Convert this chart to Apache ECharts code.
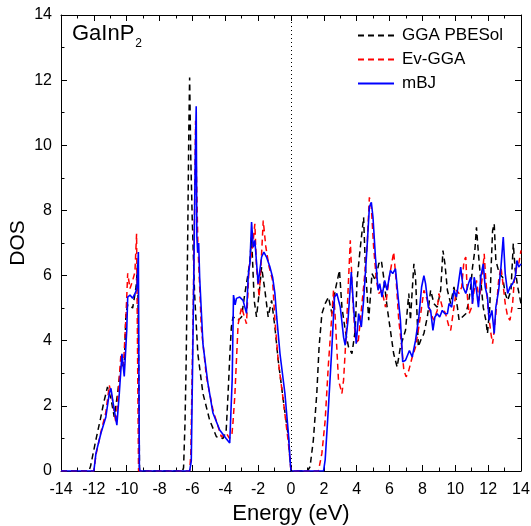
<!DOCTYPE html>
<html>
<head>
<meta charset="utf-8">
<script src="https://cdn.jsdelivr.net/npm/echarts@6/dist/echarts.min.js"></script>
<style>
html,body{margin:0;padding:0;background:#fff;}
#chart{width:531px;height:526px;}
</style>
</head>
<body>
<div id="chart"></div>
<script>
// ---- data ----
const seriesNames = ['GGA PBESol', 'Ev-GGA', 'mBJ'];
const xTicks = [-14,-12,-10,-8,-6,-4,-2,0,2,4,6,8,10,12,14];
const yTicks = [0,2,4,6,8,10,12,14];

const ggaE = [-14,-12.3,-12.2,-11.9,-11.6,-11.4,-11.17,-10.95,-10.76,-10.55,-10.35,-10.15,-10.05,-9.94,-9.8,-9.64,-9.43,-9.33,-9.27,-9.22,
  -6.6,-6.54,-6.45,-6.38,-6.28,-6.22,-6.17,-6.1,-6.01,-5.87,-5.67,-5.36,-4.95,-4.54,-4.14,-3.95,-3.83,-3.72,-3.63,-3.53,-3.22,-3.01,-2.81,-2.61,-2.5,-2.4,-2.24,-2.1,-1.9,-1.79,-1.59,-1.39,-1.18,-0.98,-0.78,-0.47,-0.16,0,
  1.0,1.16,1.36,1.57,1.71,1.88,2.08,2.28,2.49,2.69,2.95,3.1,3.3,3.5,3.71,3.91,4.02,4.22,4.42,4.52,4.73,4.93,5.14,5.34,5.5,5.64,5.85,6.05,6.25,6.46,6.66,6.97,7.17,7.27,7.38,7.48,7.58,7.75,7.89,8.09,8.3,8.5,8.7,8.9,9.11,9.25,9.37,9.52,9.72,9.92,10.13,10.23,10.43,10.64,10.8,10.94,11.05,11.19,11.29,11.41,11.55,11.7,11.86,11.96,12.1,12.19,12.27,12.37,12.47,12.68,12.88,13.04,13.19,13.39,13.53,13.65,13.8,14.0];
const ggaDos = [0,0,0.15,0.9,1.6,2.1,2.58,2.2,1.66,2.4,3.3,3.2,4.8,5.1,5.1,5.0,5.65,6.4,3.0,0,
  0,0.1,1.5,3.4,7.5,10.5,12.08,9.6,7.7,5.45,3.6,2.38,1.56,1.05,1.0,1.2,2.38,3.6,4.42,4.73,4.63,4.73,5.45,6.06,6.46,7.18,5.24,4.73,5.65,6.26,5.55,4.73,5.24,4.42,3.4,2.17,1.05,0,
  0,0.13,0.95,2.38,3.81,4.83,5.14,5.34,4.83,5.55,6.16,5.03,4.32,3.81,3.6,4.32,5.85,6.87,7.79,6.36,4.63,6.06,5.85,6.36,6.46,5.95,5.03,4.32,3.6,3.19,3.81,4.32,5.45,4.63,5.55,6.36,5.95,3.81,4.01,4.22,4.73,5.55,5.14,5.03,5.55,6.77,6.36,5.55,5.14,5.65,5.03,4.63,4.73,4.83,5.14,5.65,6.26,6.77,7.48,6.67,5.85,5.03,4.63,4.22,5.03,6.36,7.38,7.59,6.46,6.06,5.95,5.45,5.24,5.55,6.98,6.16,5.65,5.14];

const evE = [-14,-12.0,-11.87,-11.57,-11.27,-11.06,-10.9,-10.66,-10.5,-10.35,-10.2,-10.05,-9.94,-9.8,-9.64,-9.5,-9.4,-9.33,-9.28,
  -6.17,-6.1,-5.97,-5.87,-5.81,-5.75,-5.67,-5.46,-5.15,-4.75,-4.24,-3.93,-3.75,-3.6,-3.53,-3.42,-3.32,-3.22,-3.01,-2.71,-2.55,-2.34,-2.2,-2.1,-1.94,-1.79,-1.69,-1.53,-1.33,-1.12,-0.98,-0.78,-0.47,-0.16,0,
  1.67,1.88,2.08,2.28,2.45,2.59,2.69,2.89,3.1,3.2,3.35,3.5,3.61,3.75,3.91,4.08,4.22,4.42,4.63,4.77,4.89,5.03,5.2,5.34,5.54,5.75,5.95,6.16,6.25,6.4,6.56,6.72,6.87,7.01,7.17,7.38,7.58,7.78,7.95,8.09,8.3,8.5,8.7,8.9,9.0,9.21,9.41,9.62,9.72,9.92,10.07,10.23,10.39,10.53,10.64,10.74,10.84,11.0,11.15,11.29,11.45,11.62,11.76,11.86,12.02,12.17,12.27,12.37,12.47,12.64,12.78,12.88,13.04,13.19,13.33,13.49,13.59,13.74,13.86,14.0];
const evDos = [0,0,0.5,1.2,1.8,2.63,2.3,1.47,2.5,3.6,3.2,4.7,6.07,5.6,5.85,6.1,7.28,3.0,0,
  0,0.5,4.4,8.0,10.75,9.0,7.0,4.4,2.9,1.87,1.05,1.16,1.0,1.1,1.5,2.3,3.4,4.5,5.03,4.52,6.26,6.87,7.59,6.26,5.34,6.67,7.69,6.87,6.26,5.85,4.63,3.4,2.17,0.86,0,
  0,0.54,1.56,3.3,4.52,5.55,4.73,2.79,2.38,2.79,4.11,5.85,7.08,5.34,4.11,3.91,4.63,5.65,6.87,8.4,8.1,6.87,5.85,5.45,5.55,5.03,5.85,6.46,6.72,5.85,4.63,3.91,3.09,2.89,3.09,3.5,3.81,4.42,5.03,5.55,5.24,4.83,4.63,4.93,5.45,5.03,4.83,4.42,4.32,5.03,5.55,5.45,5.65,6.46,6.57,5.34,4.83,5.03,5.55,5.85,5.24,5.85,6.67,5.85,4.83,4.22,3.91,4.32,4.83,5.85,6.26,5.85,5.14,4.73,4.63,5.14,5.85,6.26,6.36,6.77];

const mbjE = [-14,-12.0,-11.87,-11.57,-11.27,-11.06,-10.96,-10.8,-10.6,-10.45,-10.29,-10.15,-10.0,-9.94,-9.8,-9.64,-9.45,-9.37,-9.29,-9.23,-9.2,
  -6.17,-6.07,-5.93,-5.83,-5.77,-5.73,-5.68,-5.62,-5.56,-5.36,-5.06,-4.75,-4.34,-3.95,-3.73,-3.65,-3.58,-3.5,-3.4,-3.32,-3.12,-2.92,-2.81,-2.71,-2.6,-2.5,-2.4,-2.3,-2.2,-2.0,-1.79,-1.65,-1.49,-1.28,-1.12,-0.98,-0.87,-0.67,-0.37,-0.16,-0.05,0,
  1.98,2.08,2.28,2.49,2.65,2.79,3.0,3.2,3.3,3.47,3.67,3.81,3.97,4.12,4.28,4.42,4.63,4.77,4.89,4.99,5.14,5.3,5.4,5.54,5.7,5.85,6.05,6.19,6.36,6.52,6.66,6.8,6.97,7.07,7.21,7.38,7.58,7.78,7.95,8.09,8.19,8.36,8.5,8.64,8.76,8.9,9.05,9.21,9.37,9.52,9.62,9.78,9.92,10.07,10.19,10.33,10.47,10.64,10.8,10.94,11.05,11.15,11.29,11.41,11.55,11.7,11.82,11.96,12.06,12.23,12.37,12.47,12.64,12.78,12.92,13.04,13.19,13.33,13.49,13.65,13.75,13.86,14.0];
const mbjDos = [0,0,0.55,1.16,1.66,2.39,2.54,2.0,1.41,2.39,3.6,2.9,4.3,5.34,5.4,5.3,5.5,5.65,6.72,0.13,0,
  0,0.3,5.45,9.5,11.2,7.2,6.7,7.0,5.95,3.9,2.7,1.78,1.26,1.0,0.86,0.9,2.8,5.4,5.1,5.3,5.34,5.24,5.03,4.84,6.0,6.4,7.64,6.87,7.08,5.75,6.57,6.72,6.57,6.26,5.95,5.45,4.73,3.6,2.38,1.16,0.3,0,
  0,0.34,1.97,3.81,5.34,5.45,5.03,4.11,3.86,4.63,6.11,5.03,3.91,4.83,4.42,5.24,6.87,8.1,8.25,7.79,6.57,5.55,5.75,5.34,5.85,5.55,6.16,6.06,6.21,5.34,4.63,3.35,3.4,3.4,3.7,3.5,4.01,4.73,5.65,6.0,5.75,5.03,4.93,4.32,4.73,4.83,4.73,4.93,4.83,4.83,5.14,5.03,5.55,5.34,5.75,6.26,5.65,5.45,5.75,5.95,5.14,5.95,5.55,5.03,5.95,6.36,5.65,5.34,4.63,4.93,4.22,5.03,5.55,6.26,7.18,6.06,5.45,5.65,5.75,5.95,6.46,6.26,6.36];

// ---- build ----
function zip(xs, ys){ return xs.map((x,i)=>[x, ys[i]]); }
const FONT = 'Liberation Sans, Arial, Helvetica, sans-serif';
const chart = echarts.init(document.getElementById('chart'), null, {renderer:'canvas'});

const axisCommon = {
  type:'value',
  axisLine:{show:true, onZero:false, lineStyle:{color:'#000', width:1}},
  axisTick:{show:true, inside:true, length:6, lineStyle:{color:'#000', width:1}},
  minorTick:{show:true, splitNumber:2, length:3.5, lineStyle:{color:'#000', width:1}},
  splitLine:{show:false},
  minorSplitLine:{show:false}
};

const option = {
  backgroundColor:'#fff',
  animation:false,
  grid:{left:61, right:10, top:15, bottom:55, containLabel:false, outerBoundsMode:'none'},
  title:{
    text:'GaInP{s|2}',
    left:72, top:23, padding:0,
    textStyle:{fontFamily:FONT, fontSize:22, fontWeight:'normal', color:'#000', lineHeight:22, verticalAlign:'top',
      rich:{s:{fontFamily:FONT, fontSize:12, color:'#000', lineHeight:12, padding:[15,0,0,1], verticalAlign:'top'}}}
  },
  legend:{
    data:seriesNames,
    orient:'vertical',
    left:357, top:27, padding:0,
    itemWidth:36, itemHeight:15, itemGap:7,
    itemStyle:{color:'rgba(0,0,0,0)', borderColor:'rgba(0,0,0,0)', borderWidth:0},
    textStyle:{fontFamily:FONT, fontSize:17, color:'#000', padding:[0,0,0,3]}
  },
  xAxis:[
    Object.assign({}, axisCommon, {
      min:-14, max:14, interval:2, position:'bottom',
      axisLabel:{show:true, fontFamily:FONT, fontSize:16, color:'#000', margin:11,
        formatter:v=> xTicks.includes(v) ? String(v) : ''},
      name:'Energy (eV)', nameLocation:'middle', nameGap:32, nameMoveOverlap:false,
      nameTextStyle:{fontFamily:FONT, fontSize:22, color:'#000'}
    }),
    Object.assign({}, axisCommon, {
      min:-14, max:14, interval:2, position:'top',
      axisLabel:{show:false}
    })
  ],
  yAxis:[
    Object.assign({}, axisCommon, {
      min:0, max:14, interval:2, position:'left',
      axisLabel:{show:true, fontFamily:FONT, fontSize:16, color:'#000', margin:9,
        formatter:v=> yTicks.includes(v) ? String(v) : ''},
      name:'DOS', nameLocation:'middle', nameGap:32, nameRotate:90, nameMoveOverlap:false,
      nameTextStyle:{fontFamily:FONT, fontSize:21, color:'#000'}
    }),
    Object.assign({}, axisCommon, {
      min:0, max:14, interval:2, position:'right',
      axisLabel:{show:false}
    })
  ],
  series:[
    {
      name:seriesNames[0], type:'line', xAxisIndex:0, yAxisIndex:0,
      data:zip(ggaE, ggaDos), showSymbol:false, symbol:'none',
      lineStyle:{color:'#000', width:1.5, type:[6,4]}, itemStyle:{color:'#000'},
      markLine:{
        silent:true, symbol:'none', label:{show:false},
        lineStyle:{color:'#000', width:1, type:[1,3]},
        data:[{xAxis:0}]
      },
      z:2
    },
    {
      name:seriesNames[1], type:'line', xAxisIndex:0, yAxisIndex:0,
      data:zip(evE, evDos), showSymbol:false, symbol:'none',
      lineStyle:{color:'#ff0000', width:1.5, type:[6,4]}, itemStyle:{color:'#ff0000'},
      z:3
    },
    {
      name:seriesNames[2], type:'line', xAxisIndex:0, yAxisIndex:0,
      data:zip(mbjE, mbjDos), showSymbol:false, symbol:'none',
      lineStyle:{color:'#0000ff', width:1.6, type:'solid'}, itemStyle:{color:'#0000ff'},
      z:4
    }
  ]
};
chart.setOption(option);
</script>
</body>
</html>
